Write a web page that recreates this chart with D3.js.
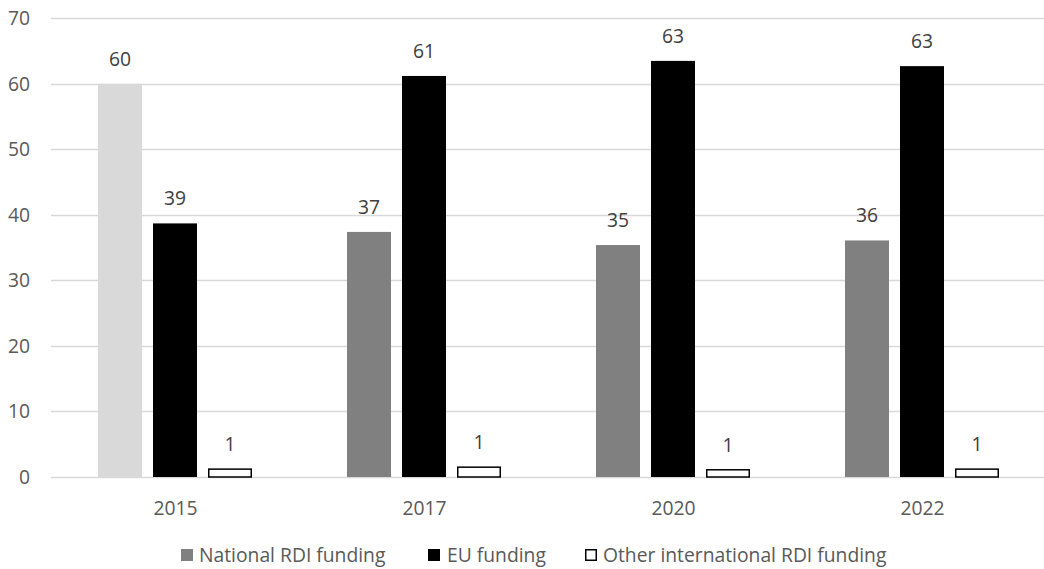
<!DOCTYPE html>
<html><head><meta charset="utf-8">
<script src="https://cdn.jsdelivr.net/npm/d3@7"></script>
<style>body{margin:0;background:#fff}svg{display:block}</style>
</head><body>
<svg id="c" width="1044" height="569"></svg>
<script>
const years = ["2015","2017","2020","2022"];
const seriesNames = ["National RDI funding","EU funding","Other international RDI funding"];
const national = [60.0, 37.4, 35.4, 36.1];
const eu = [38.7, 61.2, 63.5, 62.7];
const other = [1.2, 1.5, 1.1, 1.2];
const nationalLabels = ["60","37","35","36"];
const euLabels = ["39","61","63","63"];
const otherLabels = ["1","1","1","1"];
const yTicks = [0,10,20,30,40,50,60,70];

const FONT = "'Open Sans', Lato, sans-serif";
const FS = 19.3;
const svg = d3.select("#c");
const x = d3.scaleBand().domain(years).range([51, 1047]);
const y = d3.scaleLinear().domain([0,70]).range([477, 18.3]);

// gridlines
svg.append("g").selectAll("line").data(yTicks).join("line")
  .attr("x1", 51).attr("x2", 1044)
  .attr("y1", d=>Math.round(y(d))+0.5).attr("y2", d=>Math.round(y(d))+0.5)
  .attr("stroke", "#d9d9d9").attr("stroke-width", 1.5);

// y tick labels
svg.append("g").selectAll("text").data(yTicks).join("text")
  .attr("x", 30).attr("y", d=>y(d)).attr("dy","0.35em")
  .attr("text-anchor","end").attr("font-family",FONT).attr("font-size",FS)
  .attr("fill","#595959").text(d=>d);

// x labels
svg.append("g").selectAll("text").data(years).join("text")
  .attr("x", d=>x(d)+x.bandwidth()/2).attr("y", 508).attr("dy","0.35em")
  .attr("text-anchor","middle").attr("font-family",FONT).attr("font-size",FS)
  .attr("fill","#595959").text(d=>d);

const bw = 44, step = 55;
const series = [
  {vals: national, labels: nationalLabels, fill: (i)=> i===0 ? "#d9d9d9" : "#808080", stroke: null},
  {vals: eu, labels: euLabels, fill: ()=>"#000000", stroke: null},
  {vals: other, labels: otherLabels, fill: ()=>"#ffffff", stroke: "#000000"}
];
series.forEach((s, si) => {
  const g = svg.append("g");
  const data = years.map((yr,i)=>({yr, v:s.vals[i], lab:s.labels[i], i}));
  const xpos = d => x(d.yr) + x.bandwidth()/2 - 77.5 + si*step;
  g.selectAll("rect").data(data).join("rect")
    .attr("x", d => s.stroke ? xpos(d)+0.75 : xpos(d))
    .attr("y", d => y(d.v))
    .attr("width", s.stroke ? bw-1.5 : bw)
    .attr("height", d => y(0)-y(d.v))
    .attr("fill", d => s.fill(d.i))
    .attr("stroke", s.stroke || "none")
    .attr("stroke-width", s.stroke ? 1.5 : 0);
  g.selectAll("text").data(data).join("text")
    .attr("x", d => xpos(d)+bw/2).attr("y", d => y(d.v) - 18)
    .attr("text-anchor","middle").attr("font-family",FONT).attr("font-size",FS)
    .attr("fill","#404040").text(d=>d.lab);
});

// legend
const legend = [
  {name: seriesNames[0], fill:"#808080", stroke:null, sx:181, tx:199},
  {name: seriesNames[1], fill:"#000000", stroke:null, sx:428, tx:447},
  {name: seriesNames[2], fill:"#ffffff", stroke:"#000000", sx:585, tx:603}
];
const lg = svg.append("g");
legend.forEach(l => {
  lg.append("rect").attr("x", l.stroke? l.sx+0.75 : l.sx).attr("y", l.stroke? 549.75 : 549)
    .attr("width", l.stroke? 10.5 : 12).attr("height", l.stroke? 10.5 : 12)
    .attr("fill", l.fill).attr("stroke", l.stroke||"none").attr("stroke-width", l.stroke?1.5:0);
  lg.append("text").attr("x", l.tx).attr("y", 555).attr("dy","0.35em")
    .attr("font-family",FONT).attr("font-size",FS).attr("fill","#595959").text(l.name);
});
</script>
</body></html>
